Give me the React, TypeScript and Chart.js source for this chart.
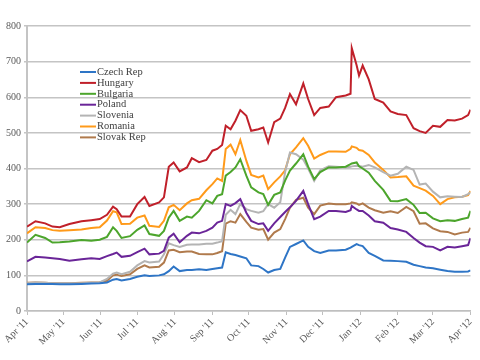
import React, { useEffect, useRef } from "react";
import { Chart, registerables } from "chart.js";

Chart.register(...registerables);

// Day offsets from 1 Apr 2011
const days = [0, 7, 15, 21, 27, 35, 45, 53, 60, 66, 71, 74, 78, 85, 91, 97, 101, 109, 113, 117, 121, 126, 132, 136, 142, 148, 153, 157, 161, 164, 168, 172, 176, 181, 185, 191, 195, 199, 204, 209, 213, 217, 222, 228, 232, 237, 242, 249, 255, 263, 267, 268, 272, 274, 277, 282, 287, 294, 300, 306, 313, 319, 324, 329, 335, 341, 347, 353, 359, 364, 366];

const monthDays = [0, 30, 61, 91, 122, 153, 183, 214, 244, 275, 306, 335, 366];
const monthLabels = ["Apr '11", "May '11", "Jun '11", "Jul '11", "Aug '11", "Sep '11", "Oct '11", "Nov '11", "Dec '11", "Jan '12", "Feb '12", "Mar '12", "Apr '12"];

const czech = [75, 76, 76, 76, 75, 75, 76, 77, 78, 80, 88, 90, 86, 90, 96, 100, 98, 100, 103, 112, 125, 112, 115, 115, 117, 115, 118, 120, 122, 165, 160, 157, 153, 148, 128, 126, 118, 108, 115, 118, 150, 180, 188, 198, 180, 168, 163, 170, 170, 172, 178, 180, 188, 185, 182, 163, 155, 142, 141, 140, 138, 130, 126, 122, 120, 116, 112, 110, 110, 111, 114];
const hungary = [237, 252, 246, 237, 235, 244, 252, 255, 258, 270, 293, 286, 265, 265, 300, 320, 295, 305, 319, 405, 417, 392, 403, 429, 418, 424, 450, 455, 466, 520, 510, 534, 564, 548, 506, 510, 515, 473, 530, 540, 570, 609, 580, 639, 595, 550, 570, 574, 600, 605, 610, 738, 690, 661, 689, 650, 595, 585, 560, 553, 550, 513, 505, 500, 520, 517, 536, 535, 540, 550, 565];
const bulgaria = [192, 214, 205, 192, 193, 195, 199, 197, 200, 208, 235, 225, 205, 210, 228, 240, 216, 211, 225, 262, 281, 253, 265, 262, 281, 311, 302, 323, 328, 380, 390, 403, 426, 380, 347, 333, 328, 298, 326, 333, 366, 394, 414, 440, 405, 370, 390, 403, 403, 405, 412, 414, 417, 406, 400, 388, 365, 340, 309, 308, 314, 298, 275, 276, 260, 252, 255, 253, 258, 262, 281];
const poland = [139, 152, 150, 148, 146, 141, 145, 148, 146, 154, 160, 164, 152, 155, 165, 175, 159, 161, 169, 206, 217, 193, 211, 220, 218, 225, 234, 248, 253, 300, 295, 303, 314, 276, 253, 244, 246, 225, 246, 264, 278, 291, 309, 337, 300, 258, 265, 281, 281, 278, 283, 295, 285, 281, 281, 268, 252, 248, 233, 229, 222, 205, 192, 182, 180, 170, 180, 178, 182, 185, 205];
const slovenia = [78, 80, 79, 78, 78, 78, 78, 79, 80, 90, 105, 108, 103, 110, 128, 140, 136, 139, 159, 190, 185, 180, 186, 187, 187, 189, 189, 192, 196, 270, 284, 272, 300, 286, 281, 276, 280, 300, 290, 305, 390, 445, 440, 425, 400, 365, 395, 406, 405, 403, 405, 406, 408, 407, 405, 410, 403, 390, 380, 385, 405, 396, 355, 358, 335, 319, 322, 321, 320, 328, 333];
const romania = [218, 235, 233, 227, 225, 227, 229, 233, 235, 254, 280, 277, 244, 245, 262, 268, 239, 236, 253, 291, 298, 283, 302, 311, 315, 339, 356, 372, 365, 455, 467, 440, 480, 422, 382, 375, 380, 342, 361, 378, 395, 440, 459, 485, 464, 428, 438, 448, 448, 447, 455, 462, 458, 452, 450, 438, 417, 396, 375, 376, 378, 352, 345, 338, 323, 300, 314, 319, 321, 325, 337];
const slovak = [79, 80, 79, 78, 78, 78, 79, 80, 81, 85, 100, 102, 98, 103, 118, 128, 122, 124, 136, 170, 172, 165, 167, 167, 160, 159, 159, 163, 168, 245, 252, 248, 272, 250, 234, 228, 230, 200, 220, 230, 258, 290, 312, 318, 290, 272, 296, 302, 300, 300, 302, 305, 302, 298, 302, 290, 283, 276, 280, 275, 292, 280, 245, 246, 232, 224, 222, 215, 220, 222, 234];

const seriesNames = ["Czech Rep", "Hungary", "Bulgaria", "Poland", "Slovenia", "Romania", "Slovak Rep"];
const seriesValues = [czech, hungary, bulgaria, poland, slovenia, romania, slovak];
const seriesColors = ["#2e75c6", "#c0202a", "#4ca52c", "#6a2598", "#b4b4b4", "#ff9a1a", "#b07a4c"];

const FONT = "'Liberation Serif', 'DejaVu Serif', serif";

const legendPlugin = {
  id: "insideLegend",
  afterDatasetsDraw(chart: any) {
    const ctx = chart.ctx;
    ctx.save();
    ctx.font = `10.5px ${FONT}`;
    ctx.textBaseline = "middle";
    ctx.textAlign = "left";
    chart.data.datasets.forEach((ds: any, i: number) => {
      const y = 72 + i * 10.9;
      ctx.strokeStyle = ds.borderColor;
      ctx.lineWidth = 2;
      ctx.beginPath();
      ctx.moveTo(80, y);
      ctx.lineTo(96, y);
      ctx.stroke();
      ctx.fillStyle = "#404040";
      ctx.fillText(ds.label, 97, y);
    });
    ctx.restore();
  },
};

export default function App() {
  const ref = useRef<HTMLCanvasElement | null>(null);
  useEffect(() => {
    document.body.style.margin = "0";
    const canvas = ref.current!;
    const chart = new Chart(canvas, {
      type: "line",
      data: {
        datasets: seriesNames.map((name, i) => ({
          label: name,
          data: days.map((d, j) => ({ x: d, y: seriesValues[i][j] })),
          borderColor: seriesColors[i],
          backgroundColor: seriesColors[i],
          borderWidth: 2,
          pointRadius: 0,
          tension: 0,
          fill: false,
        })),
      },
      options: {
        responsive: false,
        animation: false,
        layout: { padding: { left: 0, right: 7, top: 26, bottom: 0 } },
        plugins: { legend: { display: false }, tooltip: { enabled: false } },
        scales: {
          x: {
            type: "linear",
            min: 0,
            max: 366,
            afterBuildTicks: (scale: any) => {
              scale.ticks = monthDays.map((v) => ({ value: v }));
            },
            afterFit: (scale: any) => {
              scale.height = 49;
            },
            ticks: {
              autoSkip: false,
              minRotation: 45,
              maxRotation: 45,
              padding: 1,
              color: "#595959",
              font: { family: FONT, size: 10 },
              callback: (v: any) => {
                const k = monthDays.indexOf(Number(v));
                return k >= 0 ? monthLabels[k] : "";
              },
            },
            grid: { drawOnChartArea: false, drawTicks: true, tickLength: 4, color: "#bfbfbf", lineWidth: 1 },
            border: { color: "#bfbfbf", width: 1.5 },
          },
          y: {
            min: 0,
            max: 800,
            afterFit: (scale: any) => {
              scale.width = 27;
            },
            ticks: {
              stepSize: 100,
              padding: 3,
              color: "#595959",
              font: { family: FONT, size: 10 },
            },
            grid: { color: "#c4c4c4", lineWidth: 1.5, tickLength: 3 },
            border: { color: "#c4c4c4", width: 2 },
          },
        },
      },
      plugins: [legendPlugin],
    });
    return () => chart.destroy();
  }, []);
  return <canvas ref={ref} width={480} height={360} style={{ display: "block" }} />;
}
